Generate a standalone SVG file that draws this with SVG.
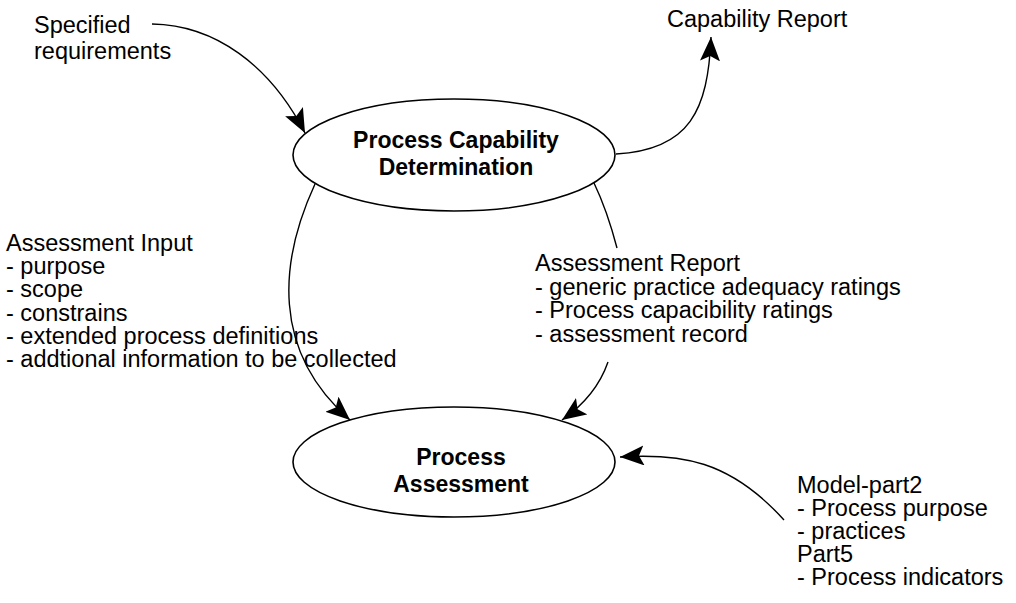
<svg xmlns="http://www.w3.org/2000/svg" width="1016" height="603" viewBox="0 0 1016 603">
  <style>
    .lbl { font-family: "Liberation Sans", Arial, sans-serif; font-size: 23.5px; fill: #000; }
    .node-title { font-family: "Liberation Sans", Arial, sans-serif; font-size: 23px; font-weight: bold; fill: #000; text-anchor: middle; }
    .node-shape { fill: #fff; stroke: #000; stroke-width: 1.6; }
    .conn { fill: none; stroke: #000; stroke-width: 1.4; }
  </style>
  <defs>
    <marker id="arrow" viewBox="0 0 24 20" refX="24" refY="10" markerWidth="24" markerHeight="20" markerUnits="userSpaceOnUse" orient="auto">
      <path d="M0,0 L24,10 L0,20 L5,10 Z" fill="#000"/>
    </marker>
  </defs>

  <rect width="1016" height="603" fill="#fff"/>

  <!-- connectors -->
  <g id="connectors">
    <path class="conn" d="M152,24 C215,25 270,65 305,133" marker-end="url(#arrow)"/>
    <path class="conn" d="M616,154 C690,150 708,110 711,37" marker-end="url(#arrow)"/>
    <path class="conn" d="M315,184 C280,260 270,350 350,420" marker-end="url(#arrow)"/>
    <path class="conn" d="M594,183 Q607,210 617,248"/>
    <path class="conn" d="M608,362 C600,385 585,404 562,420" marker-end="url(#arrow)"/>
    <path class="conn" d="M784,520 C730,460 680,453 620,457" marker-end="url(#arrow)"/>
  </g>

  <!-- nodes -->
  <g id="node-capability-determination">
    <ellipse class="node-shape" cx="454" cy="155" rx="161" ry="56"/>
    <text class="node-title" x="456" y="148">Process Capability<tspan x="456" dy="27">Determination</tspan></text>
  </g>

  <g id="node-process-assessment">
    <ellipse class="node-shape" cx="454" cy="462" rx="161" ry="55"/>
    <text class="node-title" x="461" y="465">Process<tspan x="461" dy="27">Assessment</tspan></text>
  </g>

  <!-- free-standing labels, one text block each -->
  <g id="label-specified-requirements">
    <text class="lbl" x="34" y="33">Specified<tspan x="34" dy="26">requirements</tspan></text>
  </g>

  <g id="label-capability-report">
    <text class="lbl" x="667" y="27">Capability Report</text>
  </g>

  <g id="label-assessment-input">
    <text class="lbl" x="6" y="251">Assessment Input<tspan x="6" dy="23.2">- purpose</tspan><tspan x="6" dy="23.2">- scope</tspan><tspan x="6" dy="23.2">- constrains</tspan><tspan x="6" dy="23.2">- extended process definitions</tspan><tspan x="6" dy="23.2">- addtional information to be collected</tspan></text>
  </g>

  <g id="label-assessment-report">
    <text class="lbl" x="535" y="271">Assessment Report<tspan x="535" dy="23.5">- generic practice adequacy ratings</tspan><tspan x="535" dy="23.5">- Process capacibility ratings</tspan><tspan x="535" dy="23.5">- assessment record</tspan></text>
  </g>

  <g id="label-model-parts">
    <text class="lbl" x="797" y="493">Model-part2<tspan x="797" dy="23">- Process purpose</tspan><tspan x="797" dy="23">- practices</tspan><tspan x="797" dy="23">Part5</tspan><tspan x="797" dy="23">- Process indicators</tspan></text>
  </g>
</svg>
